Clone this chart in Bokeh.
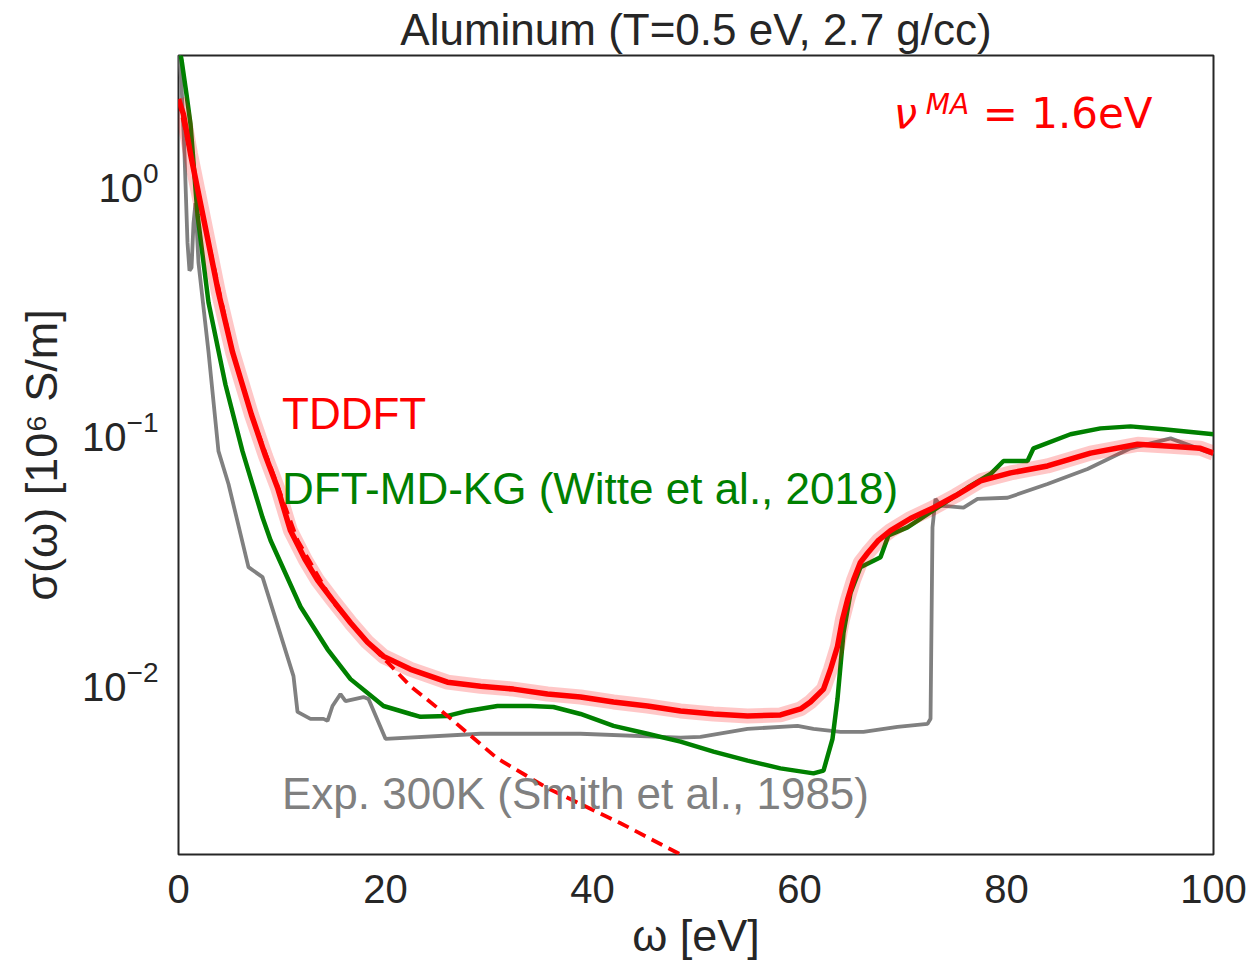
from bokeh.plotting import figure
from bokeh.models import Range1d, FixedTicker, LogTickFormatter, Label
from bokeh.embed import file_html
from bokeh.resources import INLINE

# ---------------- data ----------------
tddft_w = [0.0, 0.48, 1.16, 1.93, 2.61, 3.86, 5.22, 7.05, 8.41, 9.57, 10.82, 12.27, 13.43,
           14.88, 16.62, 18.26, 19.81, 22.42, 25.99, 29.18, 32.37, 35.65, 38.84, 42.03,
           45.31, 48.50, 51.69, 54.98, 58.16, 60.10, 61.06, 62.32, 63.00, 63.67, 64.15,
           64.64, 65.22, 65.89, 66.57, 67.63, 68.79, 70.72, 72.95, 75.07, 77.49, 80.39,
           83.96, 88.12, 92.66, 95.85, 98.74, 100.0]
tddft_s = [2.14, 1.86, 1.29, 0.896, 0.650, 0.359, 0.207, 0.116, 0.0792, 0.0591, 0.0398,
           0.0303, 0.0252, 0.0210, 0.0170, 0.0142, 0.01246, 0.01106, 0.00982, 0.00946,
           0.00921, 0.00880, 0.00856, 0.00818, 0.00788, 0.00753, 0.00732, 0.00719,
           0.00726, 0.00767, 0.00818, 0.00921, 0.01106, 0.01365, 0.0175, 0.0210, 0.0252,
           0.0297, 0.0323, 0.0364, 0.0398, 0.0445, 0.0492, 0.0549, 0.0630, 0.0678,
           0.0723, 0.0814, 0.0883, 0.0867, 0.0851, 0.0814]

kg_w = [0.0, 0.29, 0.77, 1.16, 1.84, 2.90, 4.54, 6.18, 8.12, 8.89, 11.79, 14.40, 16.62,
        19.81, 22.42, 23.38, 25.99, 27.92, 30.82, 34.01, 36.23, 38.84, 42.03, 45.31,
        48.50, 51.69, 54.98, 58.16, 61.35, 62.32, 63.19, 63.67, 64.25, 64.93, 65.89,
        66.86, 67.83, 68.60, 70.43, 73.33, 76.23, 78.45, 79.71, 82.03, 82.61, 86.18,
        89.08, 91.98, 95.17, 100.0]
kg_s = [3.54, 3.08, 2.24, 1.70, 0.733, 0.327, 0.153, 0.0829, 0.0449, 0.0364, 0.0197,
        0.0133, 0.0101, 0.00788, 0.00732, 0.00713, 0.00719, 0.00753, 0.00788, 0.00788,
        0.00781, 0.00732, 0.00656, 0.00610, 0.00567, 0.00517, 0.00476, 0.00443,
        0.00423, 0.00434, 0.00582, 0.00840, 0.0155, 0.0224, 0.0284, 0.0297, 0.0311,
        0.0381, 0.0410, 0.0492, 0.0591, 0.0671, 0.0757, 0.0757, 0.0851, 0.0969,
        0.1023, 0.1042, 0.1014, 0.0969]

exp_w = [0.0, 0.29, 0.58, 0.87, 1.06, 1.26, 1.45, 1.64, 1.93, 2.90, 3.86, 4.83, 6.76,
         8.12, 11.11, 11.50, 12.75, 14.01, 14.40, 14.88, 15.65, 16.14, 17.87, 18.36,
         20.0, 29.18, 38.84, 48.50, 50.43, 54.98, 59.81, 61.35, 63.96, 66.18, 69.47,
         72.37, 72.66, 72.85, 73.14, 73.62, 75.85, 77.20, 80.10, 83.96, 87.83, 91.98,
         95.85, 100.0]
exp_s = [3.38, 2.45, 1.29, 0.567, 0.439, 0.451, 0.681, 0.818, 0.472, 0.207, 0.0829,
         0.0612, 0.0284, 0.0259, 0.01038, 0.00746, 0.00700, 0.00700, 0.00687, 0.00788,
         0.00880, 0.00825, 0.00856, 0.00840, 0.00582, 0.00610, 0.00610, 0.00588,
         0.00593, 0.00638, 0.00656, 0.00638, 0.00621, 0.00621, 0.00650, 0.00668,
         0.00700, 0.0410, 0.0534, 0.0501, 0.0492, 0.0534, 0.0539, 0.0612, 0.0703,
         0.0851, 0.0933, 0.0806]

drude_w = [0.0, 1.16, 2.61, 5.22, 7.05, 9.57, 11.50, 14.98, 18.26, 20.19, 22.42, 25.99,
           30.82, 35.65, 42.71, 48.50, 50.43]
drude_s = [2.14, 1.29, 0.650, 0.207, 0.116, 0.0602, 0.0364, 0.0204, 0.0142, 0.0118,
           0.00946, 0.00719, 0.00485, 0.00369, 0.00267, 0.00200, 0.00184]

x_ticks = [0, 20, 40, 60, 80, 100]
y_ticks = [0.01, 0.1, 1]

TXT = "#262626"
FONT = "Liberation Sans"

p = figure(width=1252, height=963, y_axis_type="log",
           x_range=Range1d(0, 100), y_range=Range1d(0.002, 3.2),
           output_backend="svg", toolbar_location=None,
           title="Aluminum (T=0.5 eV, 2.7 g/cc)",
           min_border_left=178, min_border_right=39,
           min_border_top=52, min_border_bottom=106)

p.title.text_font = FONT
p.title.text_font_size = "44px"
p.title.text_font_style = "normal"
p.title.text_color = TXT
p.title.align = "center"
p.title.standoff = 4

p.background_fill_color = "white"
p.border_fill_color = "white"
p.outline_line_color = TXT
p.outline_line_width = 2
p.grid.visible = False

# curves
p.line(exp_w, exp_s, line_color="gray", line_width=3.8)
p.line(kg_w, kg_s, line_color="green", line_width=4.5)
p.line(tddft_w, tddft_s, line_color="red", line_width=15, line_alpha=0.22)
p.line(tddft_w, tddft_s, line_color="red", line_width=5.5)
p.line(drude_w, drude_s, line_color="red", line_width=3.8, line_dash="12 7")

# axes
p.xaxis.ticker = FixedTicker(ticks=x_ticks)
p.yaxis.ticker = FixedTicker(ticks=y_ticks, minor_ticks=[])
p.yaxis.formatter = LogTickFormatter(min_exponent=0)
for ax in (p.xaxis[0], p.yaxis[0]):
    ax.axis_line_color = None
    ax.major_tick_line_color = None
    ax.minor_tick_line_color = None
    ax.major_label_text_font = FONT
    ax.major_label_text_font_size = "40px"
    ax.major_label_text_color = TXT
    ax.major_label_standoff = 14
    ax.axis_label_text_font = FONT
    ax.axis_label_text_font_size = "45px"
    ax.axis_label_text_font_style = "normal"
    ax.axis_label_text_color = TXT
p.xaxis.axis_label = "\u03c9 [eV]"
p.yaxis.axis_label = "\u03c3(\u03c9) [10\u2076 S/m]"
p.xaxis.axis_label_standoff = 4
p.yaxis.axis_label_standoff = 12

# in-plot labels
for x, y, txt, col in [(10, 0.1, "TDDFT", "red"),
                       (10, 0.05, "DFT-MD-KG (Witte et al., 2018)", "green"),
                       (10, 0.003, "Exp. 300K (Smith et al., 1985)", "gray")]:
    p.add_layout(Label(x=x, y=y, text=txt, text_color=col, text_font=FONT,
                       text_font_size="44px", text_baseline="alphabetic", y_offset=17))

p.add_layout(Label(x=69.1, y=1.58, text="\u03bd", text_color="red", text_font="DejaVu Sans",
                   text_font_style="italic", text_font_size="42px",
                   text_baseline="alphabetic", y_offset=18))
p.add_layout(Label(x=72.2, y=1.83, text="MA", text_color="red", text_font="DejaVu Sans",
                   text_font_style="italic", text_font_size="28px",
                   text_baseline="alphabetic", y_offset=12))
p.add_layout(Label(x=77.7, y=1.58, text="= 1.6eV", text_color="red", text_font="DejaVu Sans",
                   text_font_size="42px", text_baseline="alphabetic", y_offset=18))

open("out.html", "w").write(file_html(p, INLINE))
